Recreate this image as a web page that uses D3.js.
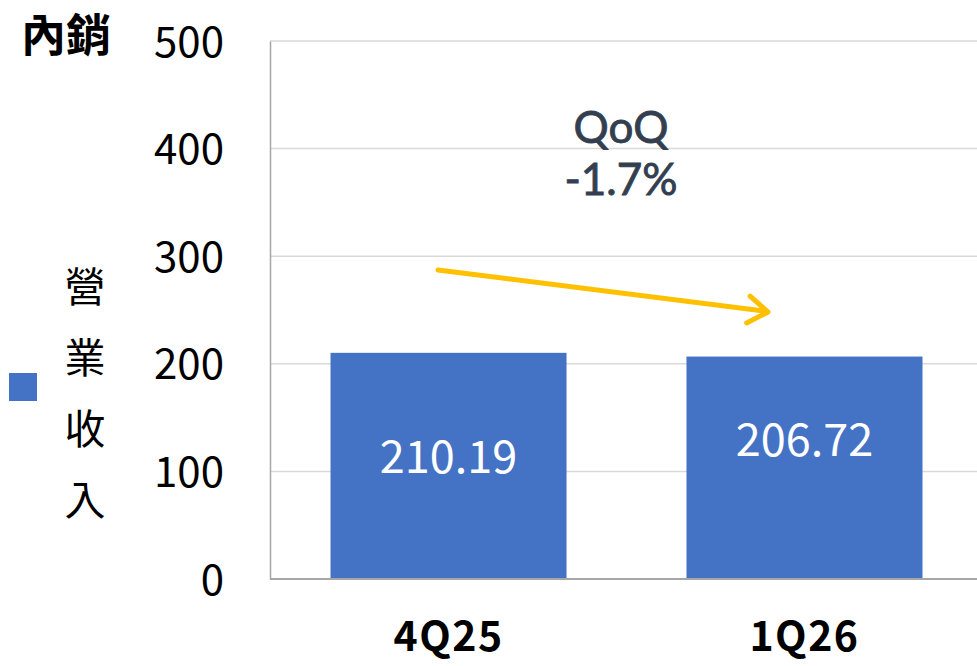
<!DOCTYPE html>
<html>
<head>
<meta charset="utf-8">
<script src="https://cdn.jsdelivr.net/npm/d3@7"></script>
<style>
  body { margin: 0; background: #fff; }
  text { font-family: "Noto Sans CJK TC", "Noto Sans", sans-serif; }
</style>
</head>
<body>
<script>
var categories = ["4Q25", "1Q26"];
var revenue = [210.19, 206.72];
var yTicks = [0, 100, 200, 300, 400, 500];
var labelOffsets = [0, -19]; // data label nudge as in the picture
var title = "內銷";
var legendLabel = "營業收入";
var qoqText = ["QoQ", "-1.7%"];

var width = 977, height = 666;
var svg = d3.select("body").append("svg").attr("width", width).attr("height", height);

var x = d3.scaleBand().domain(categories).range([270, 983]).paddingInner(0.337).paddingOuter(0.17);
var y = d3.scaleLinear().domain([0, 500]).range([579, 41]);

// gridlines
svg.append("g").selectAll("line").data(yTicks.filter(function(d){ return d > 0; }))
  .enter().append("line")
  .attr("x1", 270).attr("x2", width)
  .attr("y1", function(d){ return y(d); }).attr("y2", function(d){ return y(d); })
  .attr("stroke", "#d9d9d9").attr("stroke-width", 1.5);

// y axis
var yAxis = svg.append("g").attr("transform", "translate(270,0)")
  .call(d3.axisLeft(y).tickValues(yTicks).tickSize(0).tickPadding(46));
yAxis.select(".domain").attr("stroke", "#a6a6a6").attr("stroke-width", 1.5);
yAxis.selectAll("text").attr("font-size", 42).attr("fill", "#000").attr("dy", "0.36em")
  .style("font-family", "'Noto Sans CJK TC', sans-serif");

// bars
svg.append("g").selectAll("rect").data(revenue).enter().append("rect")
  .attr("x", function(d, i){ return x(categories[i]); })
  .attr("y", function(d){ return y(d); })
  .attr("width", x.bandwidth())
  .attr("height", function(d){ return y(0) - y(d); })
  .attr("fill", "#4472c4");

// x axis baseline
svg.append("line").attr("x1", 270).attr("x2", width).attr("y1", y(0)).attr("y2", y(0))
  .attr("stroke", "#a6a6a6").attr("stroke-width", 2);

// category labels
svg.append("g").selectAll("text").data(categories).enter().append("text")
  .attr("x", function(d){ return x(d) + x.bandwidth() / 2; })
  .attr("y", 651)
  .attr("text-anchor", "middle").attr("font-size", 41).attr("font-weight", "bold")
  .attr("letter-spacing", 1.5)
  .text(function(d){ return d; });

// data labels
svg.append("g").selectAll("text").data(revenue).enter().append("text")
  .attr("x", function(d, i){ return x(categories[i]) + x.bandwidth() / 2; })
  .attr("y", function(d, i){ return (y(d) + y(0)) / 2 + 7 + labelOffsets[i]; })
  .attr("text-anchor", "middle").attr("font-size", 45).attr("fill", "#fff")
  .text(function(d){ return d.toFixed(2); });

// title
svg.append("text").attr("x", 21).attr("y", 52).attr("font-size", 45).attr("font-weight", "bold")
  .text(title);

// legend
svg.append("rect").attr("x", 9).attr("y", 373).attr("width", 28).attr("height", 28).attr("fill", "#4472c4");
svg.append("g").selectAll("text").data(legendLabel.split("")).enter().append("text")
  .attr("x", 85).attr("y", function(d, i){ return 302 + i * 71; })
  .attr("text-anchor", "middle").attr("font-size", 41)
  .text(function(d){ return d; });

// QoQ annotation
svg.append("g").selectAll("text").data(qoqText).enter().append("text")
  .attr("x", 621).attr("y", function(d, i){ return 143 + i * 52; })
  .attr("text-anchor", "middle").attr("font-size", 44)
  .attr("fill", "#333f50").attr("stroke", "#333f50").attr("stroke-width", 0.9)
  .style("font-family", "Lato, sans-serif")
  .text(function(d){ return d; });

// arrow
var x1 = 438, y1 = 270, x2 = 768, y2 = 312;
svg.append("line").attr("x1", x1).attr("y1", y1).attr("x2", x2 - 4).attr("y2", y2 - 1)
  .attr("stroke", "#ffc000").attr("stroke-width", 5).attr("stroke-linecap", "round");
var ang = Math.atan2(y2 - y1, x2 - x1);
var hl = 24, ha = 0.6;
var head = d3.line()([
  [x2 - hl * Math.cos(ang - ha), y2 - hl * Math.sin(ang - ha)],
  [x2, y2],
  [x2 - hl * Math.cos(ang + ha), y2 - hl * Math.sin(ang + ha)]
]);
svg.append("path").attr("d", head).attr("fill", "none").attr("stroke", "#ffc000")
  .attr("stroke-width", 5).attr("stroke-linecap", "round").attr("stroke-linejoin", "round");
</script>
</body>
</html>
